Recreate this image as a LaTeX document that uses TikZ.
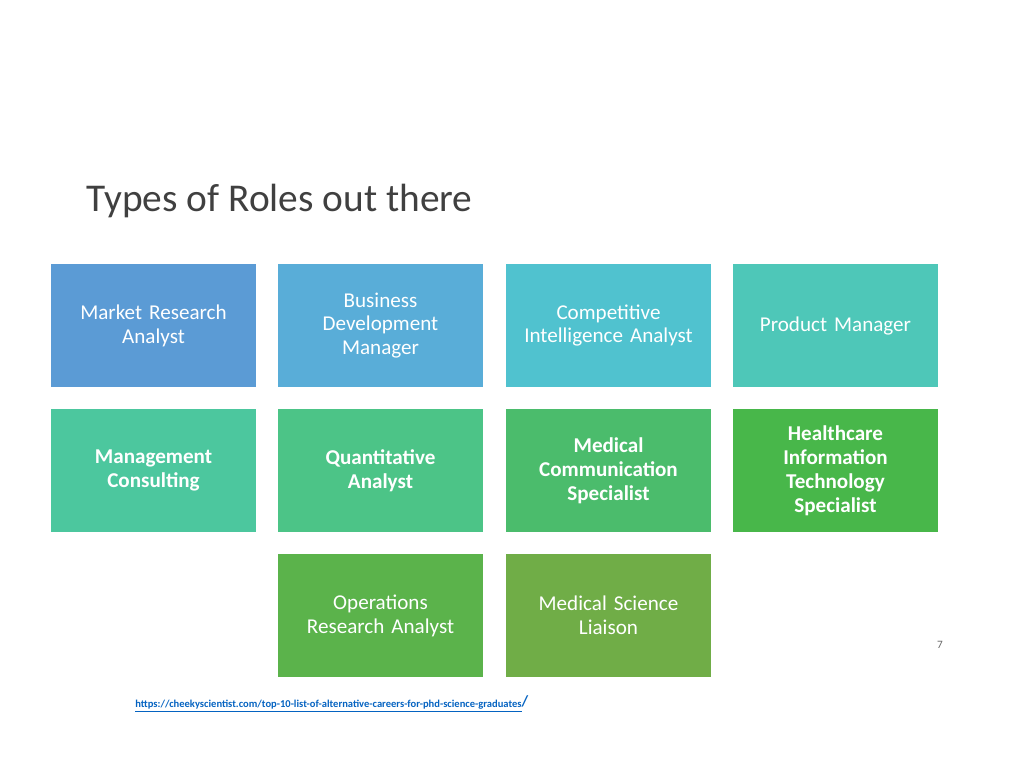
\documentclass[tikz,border=0pt]{standalone}
\usepackage{fontspec}
\setmainfont{Carlito}
\usetikzlibrary{positioning}
\definecolor{cA}{HTML}{5B9BD5}
\definecolor{cB}{HTML}{59ADD8}
\definecolor{cC}{HTML}{50C2CF}
\definecolor{cD}{HTML}{4EC7B8}
\definecolor{cE}{HTML}{4CC79E}
\definecolor{cF}{HTML}{4CC487}
\definecolor{cG}{HTML}{4BBC6C}
\definecolor{cH}{HTML}{48B74A}
\definecolor{cI}{HTML}{5BB34B}
\definecolor{cJ}{HTML}{70AD47}
\definecolor{urlblue}{HTML}{0563C1}
\begin{document}
\begin{tikzpicture}[x=0.025cm,y=-0.025cm]
\tikzset{rolebox/.style={rectangle,minimum width=5.125cm,minimum height=3.075cm,text width=4.6cm,align=center,text=white,font=\fontsize{15}{17}\selectfont,inner sep=0pt},
bold/.style={font=\fontsize{15}{17}\selectfont\bfseries}}
\useasboundingbox (0,0) rectangle (1024,768);
\node[anchor=west,font=\fontsize{28}{32}\selectfont,text=black!75](title) at (82,201){Types of Roles out there};
% first row
\node[rolebox,fill=cA](mra) at (153.5,325.5){Market Research\\Analyst};
\node[rolebox,fill=cB](bdm) at (380.5,325.5){Business\\Development\\Manager};
\node[rolebox,fill=cC](cia) at (608.5,325.5){Competitive\\Intelligence Analyst};
\node[rolebox,fill=cD](pm) at (835.5,325.5){Product Manager};
% second row
\node[rolebox,bold,fill=cE](mc) at (153.5,470.5){Management\\Consulting};
\node[rolebox,bold,fill=cF](qa) at (380.5,470.5){Quantitative\\Analyst};
\node[rolebox,bold,fill=cG](mcs) at (608.5,470.5){Medical\\Communication\\Specialist};
\node[rolebox,bold,fill=cH](hits) at (835.5,470.5){Healthcare\\Information\\Technology\\Specialist};
% third row
\node[rolebox,fill=cI](ora) at (380.5,615.5){Operations\\Research Analyst};
\node[rolebox,fill=cJ](msl) at (608.5,615.5){Medical Science\\Liaison};
\node[font=\fontsize{8}{9}\selectfont,text=black!60](page) at (940,645){7};
\node[anchor=west,inner sep=0pt,font=\fontsize{7.5}{9}\selectfont\bfseries,text=urlblue](url) at (135,704){\underline{https://cheekyscientist.com/top-10-list-of-alternative-careers-for-phd-science-graduates}\raisebox{1pt}{\fontsize{11}{11}\selectfont/}};
\end{tikzpicture}
\end{document}
